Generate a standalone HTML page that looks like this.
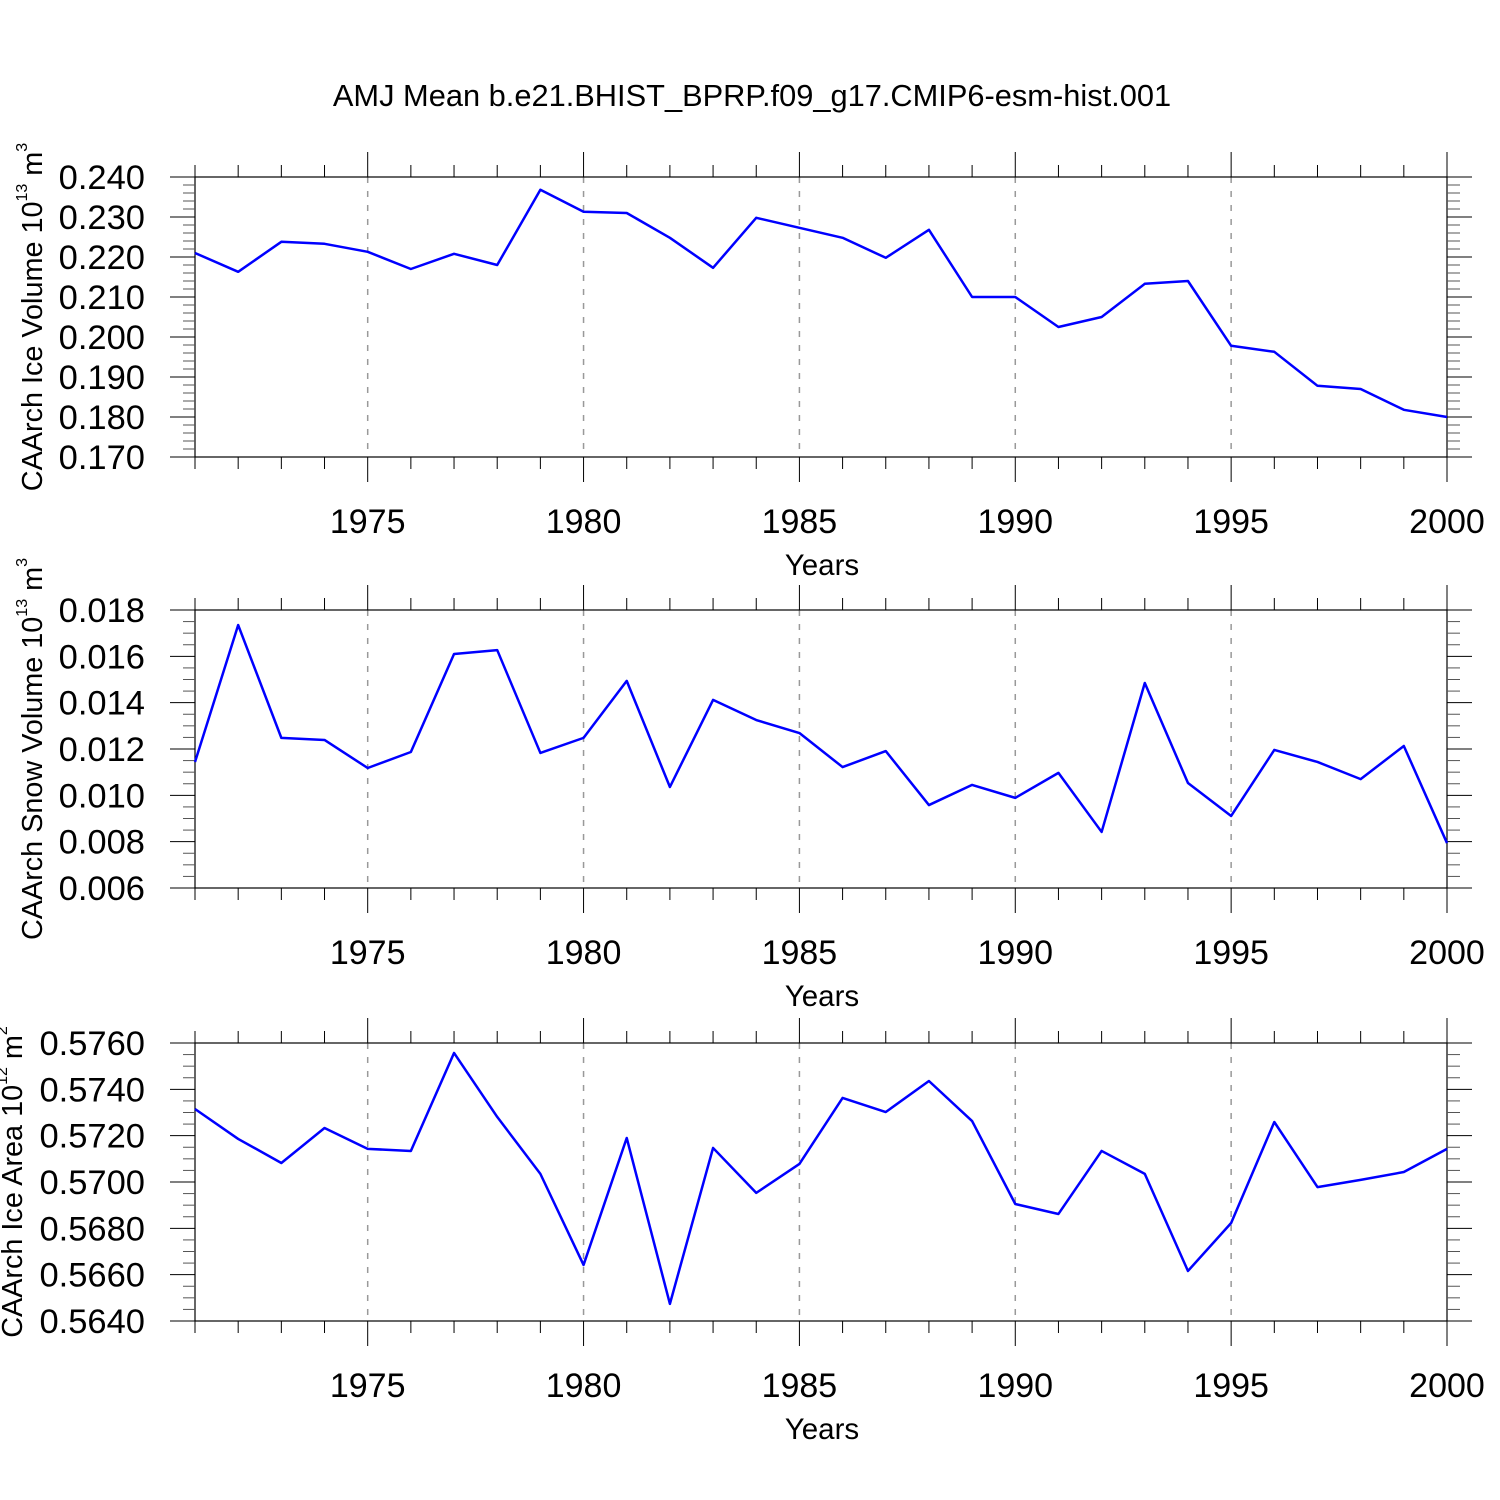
<!DOCTYPE html>
<html><head><meta charset="utf-8"><style>
body{margin:0;background:#fff}
svg{display:block;font-family:"Liberation Sans",Arial,sans-serif}
</style></head><body>
<svg id="c" width="1500" height="1500" viewBox="0 0 1500 1500" xmlns="http://www.w3.org/2000/svg">
<rect width="1500" height="1500" fill="#fff"/>
<text x="752" y="106" font-size="30.8" text-anchor="middle">AMJ Mean b.e21.BHIST_BPRP.f09_g17.CMIP6-esm-hist.001</text>
</svg>
<script>
const years=[1971,1972,1973,1974,1975,1976,1977,1978,1979,1980,1981,1982,1983,1984,1985,1986,1987,1988,1989,1990,1991,1992,1993,1994,1995,1996,1997,1998,1999,2000];
const xTicks=[1975,1980,1985,1990,1995,2000];
const iceVolume=[0.221,0.2163,0.2238,0.2233,0.2213,0.217,0.2208,0.218,0.2368,0.2313,0.231,0.2248,0.2173,0.2298,0.2273,0.2248,0.2198,0.2268,0.210,0.210,0.2025,0.205,0.2133,0.214,0.1978,0.1963,0.1878,0.187,0.1818,0.180];
const snowVolume=[0.01144,0.01735,0.01248,0.01239,0.01118,0.01187,0.0161,0.01627,0.01183,0.01248,0.01494,0.01036,0.01412,0.01325,0.01269,0.01122,0.01191,0.00958,0.01045,0.00989,0.01097,0.00842,0.01485,0.01053,0.00911,0.01196,0.01144,0.0107,0.01213,0.00794];
const iceArea=[0.57315,0.57186,0.57082,0.57233,0.57143,0.57134,0.57557,0.57281,0.57035,0.56642,0.5719,0.56474,0.57147,0.56953,0.57078,0.57363,0.57302,0.57436,0.57263,0.56905,0.56862,0.57134,0.57035,0.56616,0.56823,0.57259,0.56978,0.57009,0.57043,0.57143];
const yTicks1=[0.170,0.180,0.190,0.200,0.210,0.220,0.230,0.240];
const yTicks2=[0.006,0.008,0.010,0.012,0.014,0.016,0.018];
const yTicks3=[0.5640,0.5660,0.5680,0.5700,0.5720,0.5740,0.5760];

const NS="http://www.w3.org/2000/svg";
const svg=document.getElementById('c');
const L=195,R=1447,X0=1971,X1=2000;
const xs=v=>L+(v-X0)/(X1-X0)*(R-L);
function el(tag,attrs,parent){const e=document.createElementNS(NS,tag);for(const k in attrs)e.setAttribute(k,attrs[k]);(parent||svg).appendChild(e);return e;}

function panel(name,top,bot,vals,ticks,dec,minorDiv,titleMain,sup,unit,unitSup,titleX){
  const g=el('g',{});
  
  
  const y0=ticks[0],y1=ticks[ticks.length-1];
  const ys=v=>bot-(v-y0)/(y1-y0)*(bot-top);
  xTicks.forEach(t=>{if(t<X1){const l=el('line',{x1:xs(t),x2:xs(t),y1:top,y2:bot,stroke:'#999','stroke-width':1.5,'stroke-dasharray':'6,8'},g);
    
    }});
  const f=el('rect',{x:L,y:top,width:R-L,height:bot-top,fill:'none',stroke:'#000','stroke-width':1.2},g);
  
  
  for(let yr=X0;yr<=X1;yr++){
    const maj=yr%5===0, len=maj?25:12;
    el('line',{x1:xs(yr),x2:xs(yr),y1:top-len,y2:top,stroke:'#000','stroke-width':1},g);
    el('line',{x1:xs(yr),x2:xs(yr),y1:bot,y2:bot+len,stroke:'#000','stroke-width':1},g);
  }
  xTicks.forEach(t=>{const tx=el('text',{x:xs(t),y:bot+76,'font-size':34,'text-anchor':'middle'},g);tx.textContent=t;
    
    });
  const xt=el('text',{x:822,y:bot+118,'font-size':29.5,'text-anchor':'middle'},g);xt.textContent='Years';
  
  
  const step=ticks[1]-ticks[0];
  for(let i=0;i<ticks.length;i++){
    const y=ys(ticks[i]);
    el('line',{x1:L-25,x2:L,y1:y,y2:y,stroke:'#000','stroke-width':1},g);
    el('line',{x1:R,x2:R+25,y1:y,y2:y,stroke:'#000','stroke-width':1},g);
    const tx=el('text',{x:145,y:y+12,'font-size':34.5,'text-anchor':'end'},g);tx.textContent=ticks[i].toFixed(dec);
    
    
    if(i<ticks.length-1){for(let k=1;k<minorDiv;k++){const yy=ys(ticks[i]+step*k/minorDiv);
      el('line',{x1:L-12,x2:L,y1:yy,y2:yy,stroke:'#555','stroke-width':1},g);
      el('line',{x1:R,x2:R+13,y1:yy,y2:yy,stroke:'#555','stroke-width':1},g);}}
  }
  const cy=(top+bot)/2;
  const yt=el('text',{transform:`translate(${titleX},${cy}) rotate(-90)`,'font-size':28.8,'text-anchor':'middle'},g);
  
  
  yt.innerHTML=`${titleMain} 10<tspan font-size="16" dy="-15">${sup}</tspan><tspan dy="15"> ${unit}</tspan><tspan font-size="16" dy="-15">${unitSup}</tspan>`;
  const p=el('polyline',{points:vals.map((v,i)=>xs(years[i])+','+ys(v)).join(' '),fill:'none',stroke:'#0000ff','stroke-width':2.5,'stroke-linejoin':'round'},g);
  
  
}
panel('ice-volume',177,457,iceVolume,yTicks1,3,5,'CAArch Ice Volume','13','m','3',42);
panel('snow-volume',610,888,snowVolume,yTicks2,3,4,'CAArch Snow Volume','13','m','3',42);
panel('ice-area',1043,1321,iceArea,yTicks3,4,4,'CAArch Ice Area','12','m','2',22);
</script>
</body></html>
